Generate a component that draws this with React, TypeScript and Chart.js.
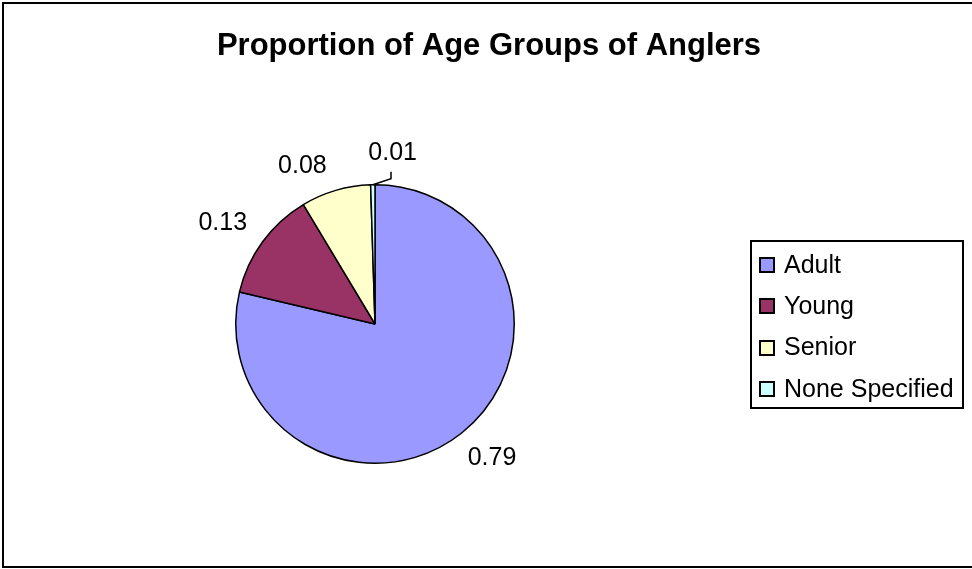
import React, { useEffect, useRef } from 'react';
import { Chart, registerables } from 'chart.js';

Chart.register(...registerables);

const TITLE = 'Proportion of Age Groups of Anglers';
const categories = ['Adult', 'Young', 'Senior', 'None Specified'];
const proportions = [0.787, 0.127, 0.081, 0.005];
const sliceColors = ['#9999FF', '#993366', '#FFFFCC', '#CCFFFF'];

const FONT = '"Liberation Sans", Arial, Helvetica, sans-serif';
const W = 972;
const H = 569;

const fmt = (v: number) => (Math.round(v * 100) / 100).toFixed(2);

const decorPlugin = {
  id: 'decor',
  beforeDraw(chart: any) {
    const ctx = chart.ctx;
    ctx.save();
    ctx.fillStyle = '#ffffff';
    ctx.fillRect(0, 0, chart.width, chart.height);
    ctx.strokeStyle = '#000000';
    ctx.lineWidth = 2;
    ctx.beginPath();
    ctx.moveTo(chart.width + 5, 3);
    ctx.lineTo(3, 3);
    ctx.lineTo(3, 567);
    ctx.lineTo(chart.width + 5, 567);
    ctx.stroke();
    ctx.restore();
  },
  afterDatasetsDraw(chart: any) {
    const ctx = chart.ctx;
    const meta = chart.getDatasetMeta(0);
    const arcs = meta.data;
    const n = arcs.length;
    const deg = 180 / Math.PI;
    const norm = (a: number) => ((a % 360) + 360) % 360;
    const starts: number[] = arcs.map((a: any) => norm(a.startAngle * deg + 90));
    const spans: number[] = arcs.map((a: any) => (a.endAngle - a.startAngle) * deg);
    const mids: number[] = starts.map((s, i) => s + spans[i] / 2);
    const lab = mids.slice();
    const minSep = 28;
    for (let it = 0; it < 10; it++) {
      for (let i = 0; i < n; i++) {
        const j = (i + 1) % n;
        let gap = lab[j] - lab[i];
        if (j === 0) gap += 360;
        if (gap < minSep) {
          const push = (minSep - gap) / 2;
          lab[i] -= push;
          lab[j] += push;
        }
      }
    }
    const cx = arcs[0].x;
    const cy = arcs[0].y;
    const R = arcs[0].outerRadius;
    ctx.save();
    ctx.font = `25px ${FONT}`;
    ctx.fillStyle = '#000000';
    ctx.textAlign = 'center';
    ctx.textBaseline = 'middle';
    const gap = 25;
    const boxH = 14;
    for (let i = 0; i < n; i++) {
      const text = fmt(proportions[i]);
      const w = ctx.measureText(text).width;
      const t = (lab[i] * Math.PI) / 180;
      const ux = Math.sin(t);
      const uy = -Math.cos(t);
      const ax = cx + ux * (R + gap);
      const ay = cy + uy * (R + gap);
      const lx = ax + (ux * w) / 2;
      const ly = ay + (uy * boxH) / 2;
      ctx.fillText(text, lx, ly);
      const inside = lab[i] >= starts[i] && lab[i] <= starts[i] + spans[i];
      if (!inside) {
        const tm = (mids[i] * Math.PI) / 180;
        const ex = cx + Math.sin(tm) * R;
        const ey = cy - Math.cos(tm) * R;
        const kx = Math.round(lx - 2);
        const ky = ey - 6;
        ctx.beginPath();
        ctx.strokeStyle = '#000000';
        ctx.lineWidth = 1.5;
        ctx.moveTo(ex, ey);
        ctx.lineTo(kx, ky);
        ctx.lineTo(kx, Math.max(ly + 12, ky - 7));
        ctx.stroke();
      }
    }
    ctx.restore();
  },
  afterDraw(chart: any) {
    const ctx = chart.ctx;
    ctx.save();
    // title
    ctx.fillStyle = '#000000';
    ctx.font = `bold 31px ${FONT}`;
    ctx.textAlign = 'center';
    ctx.textBaseline = 'alphabetic';
    ctx.fillText(TITLE, 489, 55);
    // legend
    const bx = 751, by = 241, bw = 212, bh = 167;
    ctx.strokeStyle = '#000000';
    ctx.lineWidth = 2;
    ctx.strokeRect(bx, by, bw, bh);
    ctx.font = `25px ${FONT}`;
    ctx.textAlign = 'left';
    ctx.textBaseline = 'middle';
    const rowH = 41.3;
    for (let i = 0; i < categories.length; i++) {
      const yc = 265 + i * rowH;
      const sy = Math.round(yc - 7);
      ctx.fillStyle = sliceColors[i];
      ctx.fillRect(760, sy, 14, 14);
      ctx.lineWidth = 2;
      ctx.strokeRect(760, sy, 14, 14);
      ctx.fillStyle = '#000000';
      ctx.fillText(categories[i], 784, yc + 1);
    }
    ctx.restore();
  },
};

export default function App() {
  const ref = useRef<HTMLCanvasElement>(null);
  useEffect(() => {
    document.body.style.margin = '0';
    const canvas = ref.current;
    if (!canvas) return;
    const chart = new Chart(canvas, {
      type: 'pie',
      data: {
        labels: categories,
        datasets: [
          {
            data: proportions,
            backgroundColor: sliceColors,
            borderColor: '#000000',
            borderWidth: 1.5,
            hoverOffset: 0,
          },
        ],
      },
      options: {
        responsive: false,
        maintainAspectRatio: false,
        devicePixelRatio: 1,
        animation: false,
        events: [],
        layout: { padding: { left: 235, right: 457, top: 184, bottom: 105 } },
        plugins: {
          legend: { display: false },
          title: { display: false },
          tooltip: { enabled: false },
        },
      },
      plugins: [decorPlugin],
    });
    return () => chart.destroy();
  }, []);
  return (
    <div style={{ width: W, height: H }}>
      <canvas ref={ref} width={W} height={H} style={{ display: 'block' }} />
    </div>
  );
}
